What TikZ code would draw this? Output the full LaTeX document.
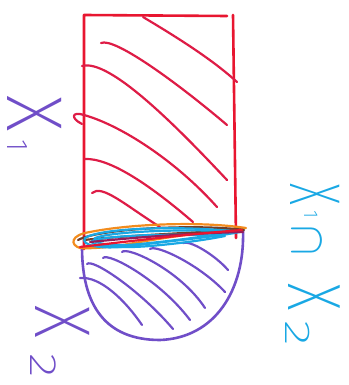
\documentclass[tikz,border=0pt]{standalone}
\usepackage{fontspec}
\setmainfont{DejaVu Sans}
\newfontfamily\lblfont{Fira Sans ExtraLight}
\usepackage{graphicx}
\definecolor{redC}{RGB}{232,22,48}
\definecolor{hatchR}{RGB}{222,28,70}
\definecolor{purpC}{RGB}{112,78,200}
\definecolor{cyanC}{RGB}{25,168,228}
\definecolor{orangeC}{RGB}{242,140,30}
\definecolor{brownC}{RGB}{115,62,40}
\definecolor{maroonC}{RGB}{150,30,90}
% glyph at absolute offset #1 along the text, raised by #2
\newcommand\gl[3]{\makebox[0pt][l]{\hspace*{#1}\raisebox{#2}{#3}}}
\newcommand\fs[1]{\fontsize{#1}{#1}\selectfont}
\begin{document}
\begin{tikzpicture}[x=1pt,y=-1pt,
  pen/.style={line width=2.6pt, line cap=round, line join=round},
  thin pen/.style={line width=2.2pt, line cap=round, line join=round},
  lbl/.style={inner sep=0pt, rotate=-90, anchor=base west, font=\lblfont\fs{72}}]
\useasboundingbox (0,0) rectangle (348,385);
% purple half disc
\draw[pen, purpC] (82,247) .. controls (82,305) and (105,340) .. (160,340)
  .. controls (215,338) and (245,290) .. (243,230);
% purple hatching
\foreach \a/\b/\c/\d/\e/\f/\g/\h in {
  80/278/100/276/125/300/142/325,
  87/264/92/258/140/290/173/329,
  103/258/108/252/160/280/190/320,
  122/252/127/246/180/270/205/308,
  150/249/156/244/200/265/225/292,
  183/243/190/240/215/255/228/270}
  \draw[thin pen, purpC] (\a,\b) .. controls (\c,\d) and (\e,\f) .. (\g,\h);
% red rectangle
\draw[pen, redC] (84,249) -- (84,15) -- (227,16);
\draw[pen, redC] (233,15) -- (236,238);
% red hatching
\draw[thin pen, hatchR] (143,17) .. controls (185,42) and (215,62) .. (237,82);
\draw[thin pen, hatchR] (101,43) .. controls (115,37) and (180,85) .. (227,125);
\draw[thin pen, hatchR] (82,66) .. controls (110,58) and (180,130) .. (227,180);
\draw[thin pen, hatchR] (82,124) .. controls (70,118) and (72,111) .. (84,115)
  .. controls (120,125) and (175,160) .. (217,207);
\draw[thin pen, hatchR] (85,159) .. controls (110,158) and (150,185) .. (193,222);
\draw[thin pen, hatchR] (92,193) .. controls (102,184) and (125,205) .. (160,227);
% lens
\draw[thin pen, orangeC] (80,248) .. controls (70,245) and (70,235) .. (90,232)
  .. controls (130,224) and (200,221) .. (246,228)
  .. controls (200,232) and (150,240) .. (123,245)
  .. controls (110,247) and (90,249) .. (80,248);
\draw[thin pen, brownC] (78,240) .. controls (100,228) and (200,224) .. (244,230)
  .. controls (200,232) and (120,236) .. (84,240);
\draw[thin pen, cyanC] (240,232) .. controls (180,225) and (100,228) .. (85,238)
  .. controls (80,245) and (100,250) .. (130,246) .. controls (180,240) and (220,236) .. (240,232);
\draw[thin pen, cyanC] (235,231) .. controls (170,229) and (110,232) .. (95,238)
  .. controls (90,243) and (110,247) .. (140,244) .. controls (190,239) and (215,235) .. (235,231);
\draw[thin pen, cyanC] (225,236) .. controls (160,233) and (105,236) .. (92,241)
  .. controls (88,245) and (115,249) .. (150,246) .. controls (185,243) and (210,239) .. (225,236);
\draw[thin pen, maroonC] (90,242) .. controls (150,236) and (200,233) .. (243,232);
\draw[thin pen, redC] (80,247) .. controls (140,240) and (190,234) .. (242,230);
% labels (text runs downwards; baseline on the left)
\node[lbl, text=purpC] (x1) at (7,95)
  {\gl{0pt}{0pt}{\scalebox{1}[1.1]{X}}\gl{44pt}{0pt}{\fs{30}1}};
\node[lbl, text=purpC] (x2) at (35,305)
  {\gl{0pt}{0pt}{\scalebox{0.9}[1.1]{X}}\gl{48pt}{-5pt}{\scalebox{1.35}[1]{\fs{38}2}}};
\node[lbl, text=cyanC] (x12) at (290,183)
  {\gl{0pt}{0pt}{\scalebox{0.6}[1]{X}}\gl{27pt}{14pt}{\fs{20}1}%
   \gl{42pt}{2pt}{\scalebox{4.5}[5]{\fs{10}$\cap$}}%
   \gl{100pt}{-2pt}{\scalebox{0.75}[1.05]{X}}\gl{137pt}{-5pt}{\scalebox{1.5}[1]{\fs{36}2}}};
\end{tikzpicture}
\end{document}
